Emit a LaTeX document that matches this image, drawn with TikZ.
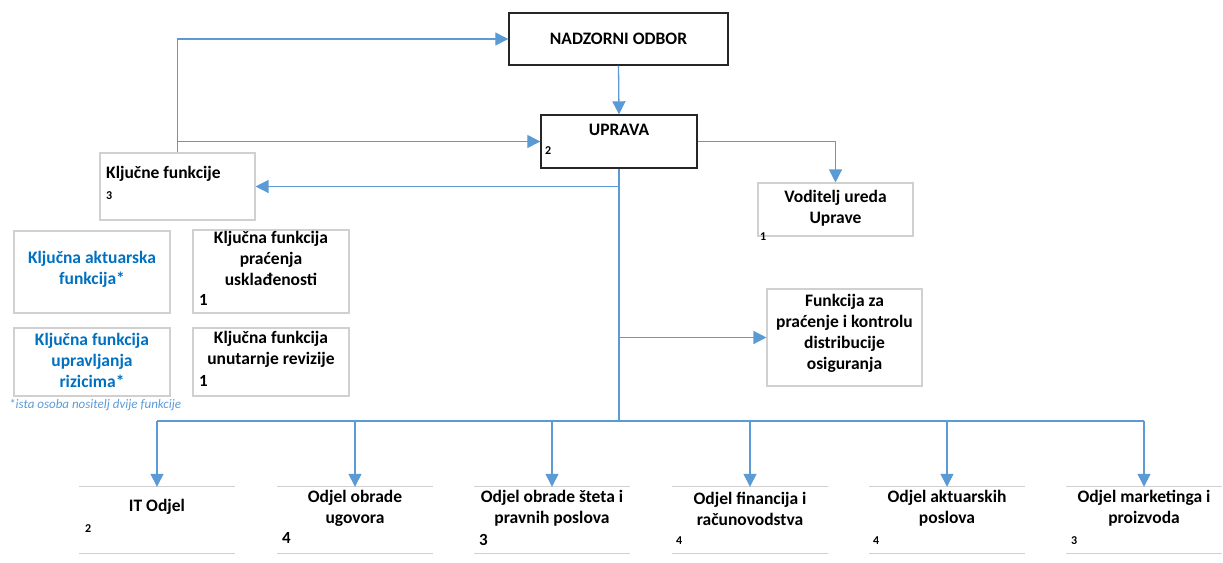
\documentclass[tikz,border=0pt]{standalone}
\usepackage{fontspec}
\setmainfont{Carlito}
\usetikzlibrary{arrows.meta}
\definecolor{linkblue}{RGB}{91,155,213}
\definecolor{textblue}{RGB}{0,112,192}
\definecolor{boxgray}{RGB}{208,208,208}

\begin{document}
\begin{tikzpicture}[x=1pt,y=-1pt,
	blackbox/.style={draw=black!85,line width=1.4pt,inner sep=0pt},
	graybox/.style={draw=boxgray,line width=1.1pt,inner sep=0pt},
	flatbox/.style={inner sep=0pt,minimum width=155,minimum height=66},
	boxtext/.style={font=\fontsize{17.5}{21}\selectfont\bfseries,align=center,inner sep=0pt},
	bluetext/.style={boxtext,text=textblue},
	bignum/.style={font=\fontsize{17}{18}\selectfont\bfseries,anchor=west,inner sep=0pt},
	smallnum/.style={font=\fontsize{12}{13}\selectfont\bfseries,anchor=west,inner sep=0pt},
	link/.style={draw=linkblue,line width=1.3pt},
	arrow/.style={link,-{Triangle[length=13pt,width=13pt]}}]
	\useasboundingbox (0,0) rectangle (1223,562);
	% top boxes
		\node[blackbox,minimum width=219,minimum height=52,boxtext] (nadzor) at (618.5,39) {NADZORNI ODBOR};
		\node[blackbox,minimum width=156,minimum height=53] (uprava) at (619,141.5) {};
		\node[boxtext] (upravatxt) at (619,130) {UPRAVA};
		\node[smallnum] (upravanum) at (545,151) {2};
	% key functions
		\node[graybox,minimum width=155,minimum height=67] (kf) at (177.5,186.5) {};
		\node[boxtext,anchor=west] (kftxt) at (106,174) {Ključne funkcije};
		\node[smallnum] (kfnum) at (106,196) {3};
		\node[graybox,minimum width=156,minimum height=82] (akt) at (92,272) {};
		\node[bluetext] (akttxt) at (92,269) {Ključna aktuarska\\funkcija*};
		\node[graybox,minimum width=156,minimum height=83] (usk) at (271,271.5) {};
		\node[boxtext] (usktxt) at (271,258.5) {Ključna funkcija\\praćenja\\usklađenosti};
		\node[bignum] (usknum) at (199,300) {1};
		\node[graybox,minimum width=156,minimum height=68] (riz) at (92,362) {};
		\node[bluetext] (riztxt) at (92,360) {Ključna funkcija\\upravljanja\\rizicima*};
		\node[graybox,minimum width=156,minimum height=68] (rev) at (271,362) {};
		\node[boxtext] (revtxt) at (271,349) {Ključna funkcija\\unutarnje revizije};
		\node[bignum] (revnum) at (199,381) {1};
		\node[font=\fontsize{13}{14}\selectfont\itshape,text=linkblue,anchor=west,inner sep=0pt] (note) at (9,405) {*ista osoba nositelj dvije funkcije};
	% right side
		\node[graybox,minimum width=155,minimum height=53] (vod) at (835.5,209.5) {};
		\node[boxtext] (vodtxt) at (835.5,208) {Voditelj ureda\\Uprave};
		\node[smallnum] (vodnum) at (760,237) {1};
		\node[graybox,minimum width=155,minimum height=97] (dist) at (844.5,337.5) {};
		\node[boxtext] (disttxt) at (844.5,333.5) {Funkcija za\\praćenje i kontrolu\\distribucije\\osiguranja};
	% departments
		\node[flatbox] (it) at (157,520) {};
		\node[boxtext] (ittxt) at (157,507) {IT Odjel};
		\node[smallnum] (itnum) at (85,529) {2};
		\node[flatbox] (ugov) at (355,520) {};
		\node[boxtext] (ugovtxt) at (355,508) {Odjel obrade\\ugovora};
		\node[bignum] (ugovnum) at (282,538) {4};
		\node[flatbox] (steta) at (552,520) {};
		\node[boxtext] (stetatxt) at (552,508) {Odjel obrade šteta i\\pravnih poslova};
		\node[bignum] (stetanum) at (479,540) {3};
		\node[flatbox] (fin) at (750,520) {};
		\node[boxtext] (fintxt) at (750,509) {Odjel financija i\\računovodstva};
		\node[smallnum] (finnum) at (676,541) {4};
		\node[flatbox] (aktp) at (947,520) {};
		\node[boxtext] (aktptxt) at (947,508) {Odjel aktuarskih\\poslova};
		\node[smallnum] (aktpnum) at (873,541) {4};
		\node[flatbox] (mark) at (1144,520) {};
		\node[boxtext] (marktxt) at (1144,508) {Odjel marketinga i\\proizvoda};
		\node[smallnum] (marknum) at (1071,541) {3};
		\foreach \b in {it,ugov,steta,fin,aktp,mark}
		{
			\draw[boxgray,line width=1.1pt] (\b.north west) -- (\b.north east);
			\draw[boxgray,line width=1.1pt] (\b.south west) -- (\b.south east);
		}
	% connectors
		\draw[arrow] (nadzor.south) -- (uprava.north);
		\draw[arrow] (kf.north) |- (nadzor.west);
		\draw[arrow] (kf.north |- uprava.west) -- (uprava.west);
		\draw[arrow] (uprava.east) -| (vod.north);
		\coordinate (bus) at (619,421);
		\draw[link] (uprava.south) -- (bus);
		\draw[arrow] (uprava.south |- kf.east) -- (kf.east);
		\draw[arrow] (uprava.south |- dist.west) -- (dist.west);
		\draw[link] (it.north |- bus) -- (mark.north |- bus);
		\foreach \b in {it,ugov,steta,fin,aktp,mark}
			\draw[arrow] (\b.north |- bus) -- (\b.north);
\end{tikzpicture}
\end{document}
